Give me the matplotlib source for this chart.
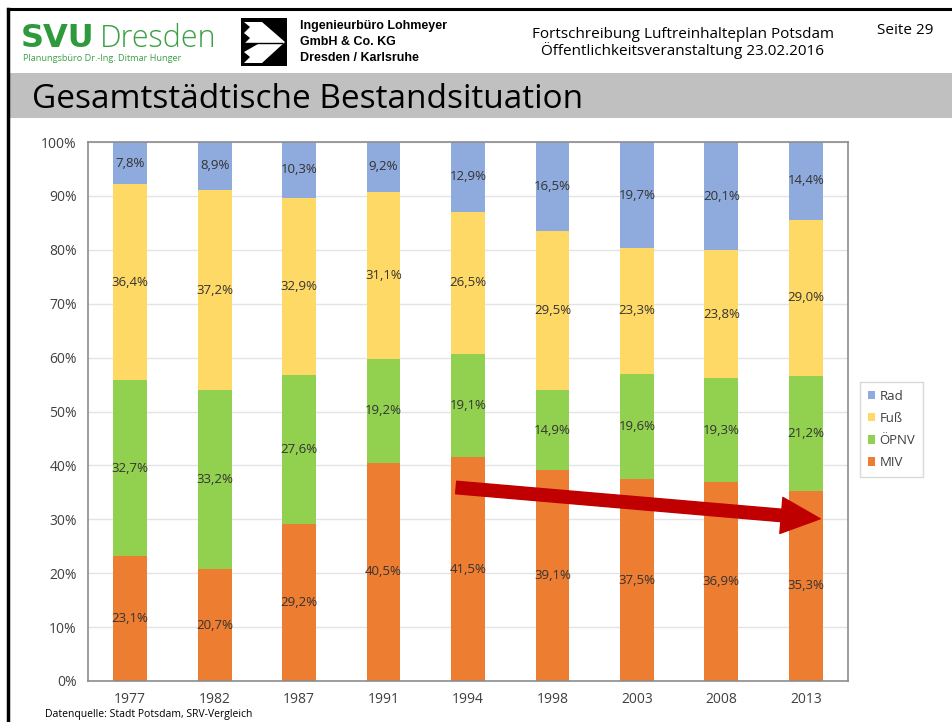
import matplotlib.pyplot as plt
import numpy as np
from matplotlib.patches import Rectangle, Polygon
from matplotlib.lines import Line2D

plt.rcParams['font.family'] = ['Open Sans', 'DejaVu Sans']

years = ['1977', '1982', '1987', '1991', '1994', '1998', '2003', '2008', '2013']
miv = [23.1, 20.7, 29.2, 40.5, 41.5, 39.1, 37.5, 36.9, 35.3]
oepnv = [32.7, 33.2, 27.6, 19.2, 19.1, 14.9, 19.6, 19.3, 21.2]
fuss = [36.4, 37.2, 32.9, 31.1, 26.5, 29.5, 23.3, 23.8, 29.0]
rad = [7.8, 8.9, 10.3, 9.2, 12.9, 16.5, 19.7, 20.1, 14.4]

series = [('MIV', miv, '#ED7D31'),
          ('ÖPNV', oepnv, '#92D050'),
          ('Fuß', fuss, '#FFD966'),
          ('Rad', rad, '#8FAADC')]

W, H = 953, 722
fig = plt.figure(figsize=(W / 100, H / 100), dpi=100)

def fx(px):
    return px / W

def fy(py):
    return 1 - py / H

# slide frame
fig.add_artist(Line2D([fx(8), 1], [fy(9), fy(9)], color='black', lw=2.2))
fig.add_artist(Line2D([fx(8), fx(8)], [fy(9), 0], color='black', lw=2.5))
fig.add_artist(Rectangle((fx(10), fy(118)), 1 - fx(10), fy(73) - fy(118),
                         color='#C0C0C0', lw=0))

# header
fig.text(fx(21), fy(47), 'SVU', color='#2E9A3C', fontsize=23,
         family=['DejaVu Sans'], fontweight='bold', ha='left', va='baseline')
fig.text(fx(100), fy(47), 'Dresden', color='#3CA046', fontsize=22, fontweight='light',
         ha='left', va='baseline')
fig.text(fx(23), fy(61), 'Planungsbüro Dr.-Ing. Ditmar Hunger', color='#3CA046',
         fontsize=6.6, ha='left', va='baseline')

fig.add_artist(Rectangle((fx(241), fy(66)), fx(46), fy(18) - fy(66),
                         color='black', lw=0))
logo = [(244, 22), (262, 22), (285, 42), (262, 63), (244, 63), (250, 57), (244, 52),
        (258, 44), (244, 44), (250, 38), (244, 33), (250, 27)]
fig.add_artist(Polygon([(fx(a), fy(b)) for a, b in logo], closed=True,
                       color='white', lw=0))
fig.add_artist(Line2D([fx(244), fx(282)], [fy(42.5), fy(42.5)], color='black', lw=1))

fig.text(fx(300), fy(20), 'Ingenieurbüro Lohmeyer\nGmbH & Co. KG\nDresden / Karlsruhe',
         family=['Liberation Sans', 'DejaVu Sans'], fontweight='bold', fontsize=9,
         linespacing=1.45, ha='left', va='top')
fig.text(fx(683), fy(43), 'Fortschreibung Luftreinhalteplan Potsdam\n'
         'Öffentlichkeitsveranstaltung 23.02.2016', fontsize=11, ha='center',
         va='center', linespacing=1.0)
fig.text(fx(877), fy(30), 'Seite 29', fontsize=11, ha='left', va='center')
fig.text(fx(32), fy(99), 'Gesamtstädtische Bestandsituation', fontsize=24,
         ha='left', va='center')
fig.text(fx(45), fy(709), 'Datenquelle: Stadt Potsdam, SRV-Vergleich', fontsize=7.5,
         ha='left', va='top')

# chart
ax = fig.add_axes([fx(88), fy(681), fx(848) - fx(88), fy(142) - fy(681)])
x = np.arange(len(years))
total = np.sum([s[1] for s in series], axis=0)
bottom = np.zeros(len(years))
handles = []
for name, vals, col in series:
    v = np.array(vals) / total * 100
    b = ax.bar(x, v, 0.4, bottom=bottom, color=col, label=name, zorder=2)
    for xi, bi, vi, lab in zip(x, bottom, v, vals):
        ax.text(xi, bi + vi / 2, f'{lab:.1f}%'.replace('.', ','), ha='center',
                va='center', fontsize=9.5, color='#333333', zorder=3)
    bottom += v
    handles.append(b)

ax.set_xlim(-0.5, len(years) - 0.5)
ax.set_ylim(0, 100)
ax.set_yticks(range(0, 101, 10))
ax.set_yticklabels([f'{t}%' for t in range(0, 101, 10)])
ax.set_xticks(x)
ax.set_xticklabels(years)
ax.tick_params(length=0, labelsize=10, colors='#404040', pad=8)
ax.grid(axis='y', color='#E4E4E4', lw=1, zorder=0)
for s in ax.spines.values():
    s.set_color('#8C8C8C')
    s.set_linewidth(1.2)

ax.annotate('', xy=(8.17, 30.1), xytext=(3.86, 35.9),
            arrowprops=dict(arrowstyle='simple,head_width=1.3,head_length=1.4,tail_width=0.45',
                            color='#C00000', mutation_scale=20, shrinkA=0, shrinkB=0),
            zorder=5)

leg = fig.legend(handles[::-1], [s[0] for s in series][::-1],
                 loc='upper left', bbox_to_anchor=(fx(853), fy(375)),
                 fontsize=9.5, frameon=True, fancybox=False, handlelength=0.6,
                 handleheight=0.6, handletextpad=0.3, labelspacing=0.7,
                 borderpad=0.6, labelcolor='#404040')
leg.get_frame().set_edgecolor('#D0D0D0')
leg.get_frame().set_linewidth(1)

fig.savefig('out.png', dpi=100)
